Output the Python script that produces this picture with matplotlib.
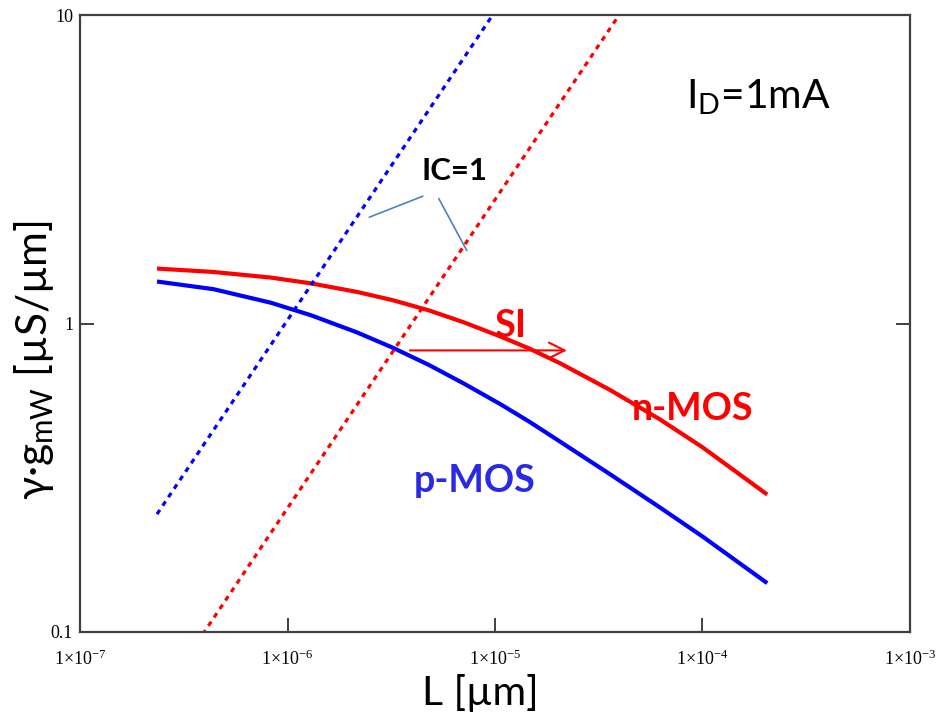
import numpy as np
import matplotlib
matplotlib.use("Agg")
import matplotlib.pyplot as plt
from matplotlib.ticker import FixedLocator, FuncFormatter

# ---- data ----
L = [2.35e-7, 4.4e-7, 8.3e-7, 1.3e-6, 2.16e-6, 3.2e-6, 4.8e-6, 7.1e-6,
     1.06e-5, 1.46e-5, 2.06e-5, 3.6e-5, 6.2e-5, 1.0e-4, 2.05e-4]
gm_nmos = [1.507, 1.469, 1.409, 1.349, 1.266, 1.191, 1.103, 1.008,
           0.908, 0.830, 0.743, 0.608, 0.490, 0.397, 0.279]
gm_pmos = [1.368, 1.292, 1.168, 1.063, 0.936, 0.836, 0.734, 0.638,
           0.548, 0.481, 0.414, 0.324, 0.254, 0.204, 0.144]
L_ic = [2.35e-7, 1e-6, 1e-5, 4.2e-5]
ic1_pmos = [0.241, 1.026, 10.26, 43.1]
ic1_nmos = [0.0592, 0.252, 2.52, 10.6]
xticks = [1e-7, 1e-6, 1e-5, 1e-4, 1e-3]
yticks = [0.1, 1, 10]
ytick_labels = ["0.1", "1", "10"]

SANS = ["Lato", "DejaVu Sans"]
SERIF = ["Liberation Serif", "DejaVu Serif"]

W, H = 945, 716
fig = plt.figure(figsize=(W / 100, H / 100), dpi=100)
ax = fig.add_axes([80 / W, 1 - 632 / H, 830 / W, 617 / H])
ax.set_xscale("log")
ax.set_yscale("log")
ax.set_xlim(1e-7, 1e-3)
ax.set_ylim(0.1, 10)

ax.plot(L, gm_nmos, color="#ff0000", lw=3.0, solid_capstyle="butt",
        solid_joinstyle="round")
ax.plot(L, gm_pmos, color="#0000ff", lw=3.0, solid_capstyle="butt",
        solid_joinstyle="round")
ax.plot(L_ic, ic1_pmos, color="#0000ff", lw=2.3, ls=(0, (1.6, 1.6)))
ax.plot(L_ic, ic1_nmos, color="#ff0000", lw=2.3, ls=(0, (1.6, 1.6)))

for s in ax.spines.values():
    s.set_color("#404040")
    s.set_linewidth(1.6)

ax.xaxis.set_major_locator(FixedLocator(xticks))
ax.yaxis.set_major_locator(FixedLocator(yticks))
ax.xaxis.set_minor_locator(FixedLocator([]))
ax.yaxis.set_minor_locator(FixedLocator([]))


def xfmt(v, pos):
    e = int(round(np.log10(v)))
    return r"$\mathdefault{1{\times}10^{%d}}$" % e


ax.xaxis.set_major_formatter(FuncFormatter(xfmt))
ax.set_yticklabels(ytick_labels)
ax.tick_params(axis="x", which="major", direction="in", length=10, width=1.2,
               color="#202020", pad=13, labelsize=13, bottom=True, top=False)
ax.tick_params(axis="y", which="major", direction="in", length=10, width=1.2,
               color="#202020", pad=5, labelsize=13, left=True, right=True)
for lab in ax.get_xticklabels() + ax.get_yticklabels():
    lab.set_fontfamily(SERIF)
for t in [ax.xaxis.get_major_ticks()[0], ax.xaxis.get_major_ticks()[-1]]:
    t.tick1line.set_visible(False)
for t in [ax.yaxis.get_major_ticks()[0], ax.yaxis.get_major_ticks()[-1]]:
    t.tick1line.set_visible(False)
    t.tick2line.set_visible(False)

renderer = fig.canvas.get_renderer()


def px(x, y):
    return x / W, 1 - y / H


def fit(t, width=None, height=None):
    for _ in range(3):
        bb = t.get_window_extent(renderer)
        if width is not None:
            t.set_fontsize(t.get_fontsize() * width / bb.width)
        else:
            t.set_fontsize(t.get_fontsize() * height / bb.height)


yl = fig.text(*px(34, 360), r"γ·g$_\mathdefault{mW}$ [µS/µm]", rotation=90,
              ha="center", va="center", fontsize=30, family=SANS)
fit(yl, height=280)
xl = fig.text(*px(480, 705), "L [µm]", ha="center", va="baseline",
              fontsize=28, family=SANS)
fit(xl, width=117)

t = fig.text(*px(758, 108), r"I$_\mathdefault{D}$=1mA", ha="center",
             va="baseline", fontsize=28, family=SANS, color="black")
fit(t, width=145)

t = fig.text(*px(455, 180), "IC=1", ha="center", va="baseline", fontsize=23,
             family=SANS, weight="bold", color="black")
fit(t, width=66)
ax.annotate("", xy=(2.48e-6, 2.211), xytext=(4.49e-6, 2.586),
            arrowprops=dict(arrowstyle="-", color="#4f81bd", lw=1.2,
                            shrinkA=0, shrinkB=0))
ax.annotate("", xy=(7.31e-6, 1.725), xytext=(5.36e-6, 2.54),
            arrowprops=dict(arrowstyle="-", color="#4f81bd", lw=1.2,
                            shrinkA=0, shrinkB=0))

t = fig.text(*px(510, 337), "SI", ha="center", va="baseline", fontsize=23,
             family=SANS, weight="bold", color="#ff0000")
fit(t, width=32)
ax.annotate("", xy=(2.22e-5, 0.818), xytext=(3.89e-6, 0.818),
            arrowprops=dict(arrowstyle="->", color="#ff0000", lw=1.5,
                            mutation_scale=28, shrinkA=0, shrinkB=0))

t = fig.text(*px(693, 420), "n-MOS", ha="center", va="baseline", fontsize=26,
             family=SANS, weight="bold", color="#ff0000")
fit(t, width=122)
t = fig.text(*px(475, 492), "p-MOS", ha="center", va="baseline", fontsize=26,
             family=SANS, weight="bold", color="#2a2ae6")
fit(t, width=122)

fig.savefig("out.png", dpi=100, facecolor="white")
